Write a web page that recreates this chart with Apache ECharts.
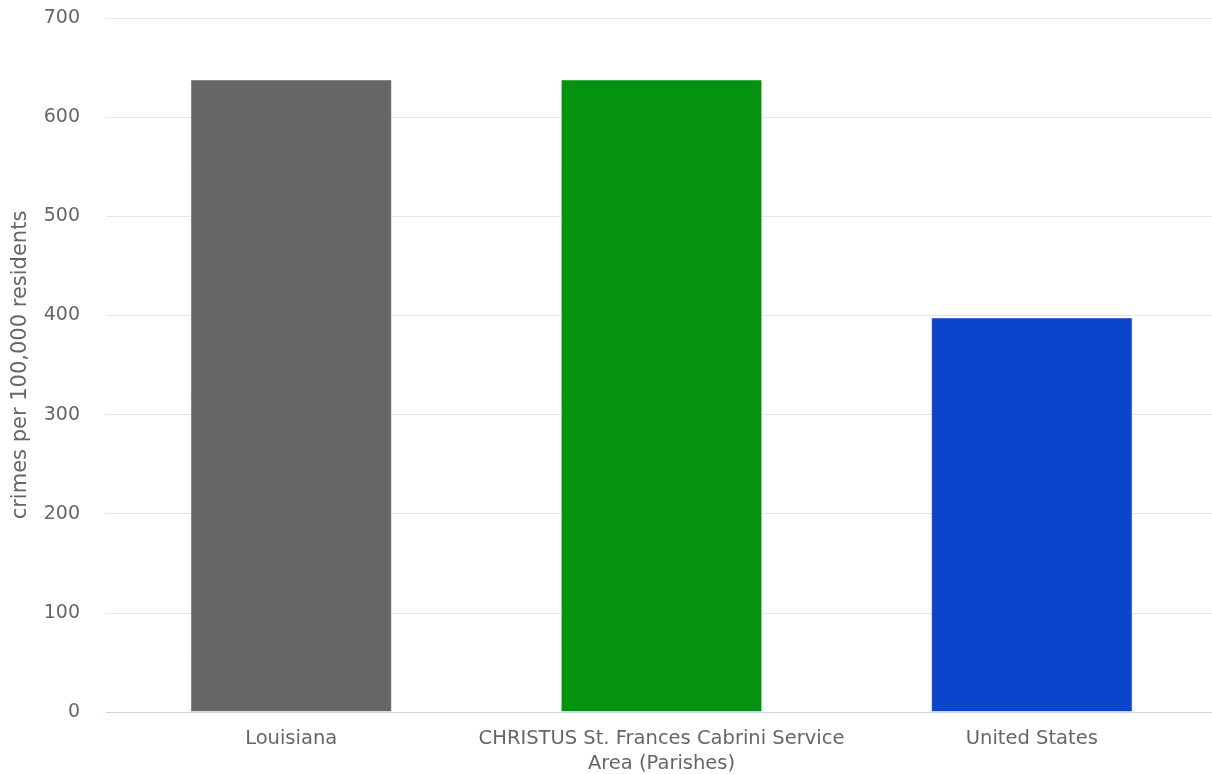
<!DOCTYPE html>
<html><head><meta charset="utf-8">
<script src="https://cdn.jsdelivr.net/npm/echarts@6/dist/echarts.min.js"></script>
<style>html,body{margin:0;padding:0;background:#fff}#c{width:1212px;height:774px}</style>
</head><body><div id="c"></div>
<script>
const categories = ["Louisiana", "CHRISTUS St. Frances Cabrini Service\nArea (Parishes)", "United States"];
const values = [638, 638, 398];
const colors = ["#666666", "#05930f", "#0c45cc"];
const yTicks = [0, 100, 200, 300, 400, 500, 600, 700];
const yName = "crimes per 100,000 residents";

const chart = echarts.init(document.getElementById('c'), null, {renderer: 'canvas'});
const font = "'DejaVu Sans', sans-serif";
chart.setOption({
  animation: false,
  grid: {left: 106, width: 1111, top: 18, bottom: 62, outerBoundsMode: 'none', containLabel: false},
  xAxis: {
    type: 'category',
    data: categories,
    axisLine: {lineStyle: {color: '#ccd6eb'}},
    axisTick: {show: false},
    axisLabel: {color: '#666666', fontSize: 19.5, fontFamily: font, margin: 14, lineHeight: 25, interval: 0}
  },
  yAxis: {
    type: 'value',
    min: yTicks[0], max: yTicks[yTicks.length - 1], interval: 100,
    name: yName,
    nameLocation: 'middle',
    nameGap: 75,
    nameTextStyle: {color: '#666666', fontSize: 21, fontFamily: font},
    axisLabel: {color: '#666666', fontSize: 19, fontFamily: font, margin: 26},
    splitLine: {lineStyle: {color: '#e6e6e6'}},
    axisLine: {show: false}, axisTick: {show: false}
  },
  series: [{
    type: 'bar',
    barWidth: '54.4%',
    data: values.map((v, i) => ({value: v, itemStyle: {color: colors[i]}})),
    itemStyle: {borderColor: 'rgba(255,255,255,0.5)', borderWidth: 1}
  }]
});
</script></body></html>
